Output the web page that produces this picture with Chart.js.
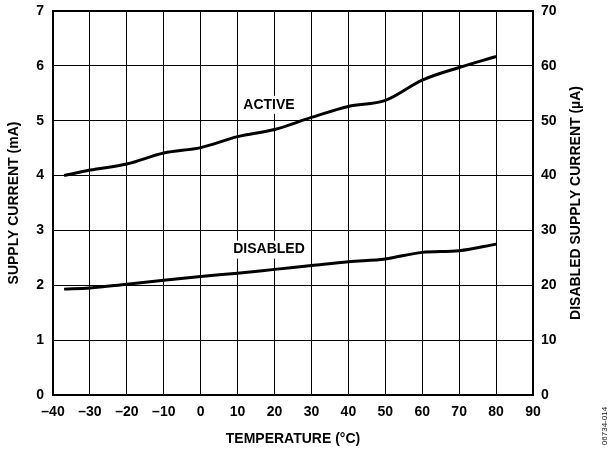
<!DOCTYPE html>
<html>
<head>
<meta charset="utf-8">
<script src="https://cdn.jsdelivr.net/npm/chart.js@4.4.1/dist/chart.umd.min.js"></script>
<style>
  html, body { margin: 0; padding: 0; background: #fff; }
  #wrap { width: 613px; height: 449px; position: relative; }
</style>
</head>
<body>
<div id="wrap"><canvas id="chart"></canvas></div>
<script>
'use strict';

// ─── Data ─────────────────────────────────────────────────────────────────────

const temps         = [-37, -30, -20, -10, 0, 10, 20, 30, 40, 50, 60, 70, 80];
const activeMA      = [4.00, 4.10, 4.21, 4.41, 4.51, 4.71, 4.84, 5.06, 5.26, 5.37, 5.74, 5.97, 6.17];
const disabledUA    = [19.3, 19.5, 20.2, 20.9, 21.6, 22.2, 22.9, 23.6, 24.3, 24.8, 26.0, 26.3, 27.5];
const xTickLabels   = ['–40', '–30', '–20', '–10', '0', '10', '20', '30', '40', '50', '60', '70', '80', '90'];
const leftTicks     = ['0', '1', '2', '3', '4', '5', '6', '7'];
const rightTicks    = ['0', '10', '20', '30', '40', '50', '60', '70'];

// ─── Style ────────────────────────────────────────────────────────────────────

const FONT = '"Liberation Sans", Arial, Helvetica, sans-serif';
const tickFont  = { family: FONT, size: 14, weight: 'bold' };
const titleFont = 'bold 14px ' + FONT;

// vertical axes: fixed width, no label overflow padding so the plot starts at top: 11
const fixVertical = width => s => {
  s.width = width;
  s.paddingTop = 0;
  s.paddingBottom = 0;
};

// ─── Annotations plugin (axis titles, curve labels, figure id) ───────────────

const annotations = {
  id: 'annotations',
  afterDatasetsDraw(chart) {
    const { ctx, chartArea: a, scales } = chart;
    ctx.save();

    // plot frame
    ctx.strokeStyle = '#000';
    ctx.lineWidth = 2;
    ctx.strokeRect(a.left, a.top, a.right - a.left, a.bottom - a.top);

    // curve labels with white boxes over the grid
    ctx.font = titleFont;
    ctx.textAlign = 'center';
    ctx.textBaseline = 'middle';
    [['ACTIVE', 18.5, 5.29], ['DISABLED', 18.5, 2.65]].forEach(([txt, xv, yv]) => {
      const x = scales.x.getPixelForValue(xv);
      const y = scales.y.getPixelForValue(yv);
      const w = ctx.measureText(txt).width;
      ctx.fillStyle = '#fff';
      ctx.fillRect(x - w / 2 - 3, y - 9, w + 6, 18);
      ctx.fillStyle = '#000';
      ctx.fillText(txt, x, y);
    });

    // axis titles
    const midY = (a.top + a.bottom) / 2;
    ctx.fillText('TEMPERATURE (°C)', (a.left + a.right) / 2, 439);

    ctx.save();
    ctx.translate(14, midY);
    ctx.rotate(-Math.PI / 2);
    ctx.fillText('SUPPLY CURRENT (mA)', 0, 0);
    ctx.restore();

    ctx.save();
    ctx.translate(576, midY);
    ctx.rotate(-Math.PI / 2);
    ctx.fillText('DISABLED SUPPLY CURRENT (µA)', 0, 0);
    ctx.restore();

    ctx.save();
    ctx.translate(605, 426);
    ctx.rotate(-Math.PI / 2);
    ctx.font = '8px ' + FONT;
    ctx.fillStyle = '#222';
    ctx.fillText('06734-014', 0, 0);
    ctx.restore();

    ctx.restore();
  }
};

// ─── Chart ────────────────────────────────────────────────────────────────────

new Chart(document.getElementById('chart'), {
  type: 'line',
  data: {
    datasets: [
      {
        label: 'ACTIVE',
        data: temps.map((t, i) => ({ x: t, y: activeMA[i] })),
        yAxisID: 'y',
      },
      {
        label: 'DISABLED',
        data: temps.map((t, i) => ({ x: t, y: disabledUA[i] })),
        yAxisID: 'y2',
      },
    ].map(ds => Object.assign(ds, {
      borderColor: '#000',
      borderWidth: 3,
      pointRadius: 0,
      tension: 0.3,
      cubicInterpolationMode: 'monotone',
      fill: false,
    })),
  },
  options: {
    responsive: true,
    maintainAspectRatio: false,
    animation: false,
    layout: { padding: { top: 11, left: 0, right: 0, bottom: 0 } },
    plugins: { legend: { display: false }, tooltip: { enabled: false } },
    scales: {
      x: {
        type: 'linear',
        min: -40,
        max: 90,
        ticks: {
          stepSize: 10,
          color: '#000',
          font: tickFont,
          padding: 9,
          maxRotation: 0,
          autoSkip: false,
          callback: (v, i) => xTickLabels[i],
        },
        grid: { color: '#000', lineWidth: 1, drawTicks: false },
        border: { color: '#000', width: 2 },
        afterFit: s => { s.height = 54; },
      },
      y: {
        position: 'left',
        min: 0,
        max: 7,
        ticks: {
          stepSize: 1,
          color: '#000',
          font: tickFont,
          padding: 9,
          callback: (v, i) => leftTicks[i],
        },
        grid: { color: '#000', lineWidth: 1, drawTicks: false },
        border: { color: '#000', width: 2 },
        afterFit: fixVertical(53),
      },
      y2: {
        position: 'right',
        min: 0,
        max: 70,
        ticks: {
          stepSize: 10,
          color: '#000',
          font: tickFont,
          padding: 8,
          callback: (v, i) => rightTicks[i],
        },
        grid: { drawOnChartArea: false, drawTicks: false },
        border: { color: '#000', width: 2 },
        afterFit: fixVertical(80),
      },
    },
  },
  plugins: [annotations],
});
</script>
</body>
</html>
